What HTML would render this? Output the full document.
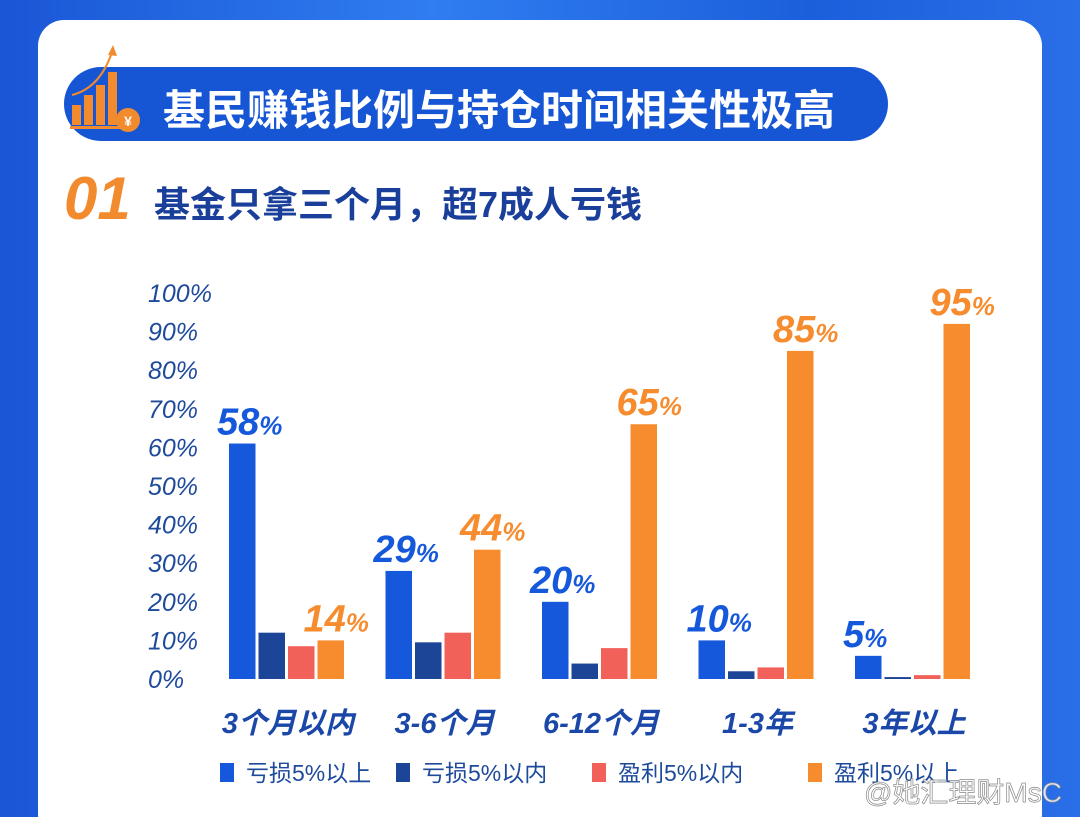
<!DOCTYPE html>
<html><head><meta charset="utf-8"><style>
html,body{margin:0;width:1080px;height:817px;overflow:hidden;}
body{position:relative;background:#1f5fd8;font-family:"Liberation Sans","Noto Sans CJK SC",sans-serif;}
#bg{position:absolute;left:0;top:0;width:1080px;height:817px;background:linear-gradient(90deg,#1a56d6 0%,#2f7df0 40%,#1c5fdc 75%,#2a6ee8 100%);}
#card{position:absolute;left:38px;top:20px;width:1004px;height:820px;background:#fff;border-radius:26px;}
#banner{position:absolute;left:64px;top:67px;width:824px;height:74px;background:#1656d4;border-radius:37px;}
#btitle{position:absolute;left:163px;top:77px;font-size:42px;font-weight:bold;color:#fff;letter-spacing:0px;white-space:nowrap;}
#num{position:absolute;left:64px;top:164px;font-size:60px;font-weight:bold;font-style:italic;color:#f28a2e;}
#sub{position:absolute;left:154px;top:176px;font-size:36px;font-weight:bold;color:#1a3f9a;white-space:nowrap;}
svg{position:absolute;left:0;top:0;}
</style></head><body>
<div id="bg"></div>
<div id="card"></div>
<div id="banner"></div>
<div id="btitle">基民赚钱比例与持仓时间相关性极高</div>
<div id="num">01</div>
<div id="sub">基金只拿三个月，超7成人亏钱</div>
<svg width="1080" height="817" id="chart">
 <g>
  <rect x="72" y="105" width="9" height="20" fill="#f28a2e"/>
  <rect x="84" y="95" width="9" height="30" fill="#f28a2e"/>
  <rect x="96" y="85" width="9" height="40" fill="#f28a2e"/>
  <rect x="108" y="72" width="9" height="53" fill="#f28a2e"/>
  <rect x="70" y="126" width="56" height="3" fill="#f28a2e"/>
  <path d="M72 95 Q100 88 112 52" stroke="#f28a2e" stroke-width="2" fill="none"/>
  <polygon points="108,55 113,45 117,56" fill="#f28a2e"/>
  <circle cx="128" cy="120" r="12" fill="#f28a2e"/>
  <text x="128" y="126" font-size="14" fill="#fff" text-anchor="middle" font-weight="bold">¥</text>
 </g>
</svg>
<script>
const categories=["3个月以内","3-6个月","6-12个月","1-3年","3年以上"];
const lossBig=[61,28,20,10,6];
const lossSmall=[12,9.5,4,2,0.5];
const gainSmall=[8.5,12,8,3,1];
const gainBig=[10,33.5,66,85,92];
const blueLabels=["58","29","20","10","5"];
const orangeLabels=["14","44","65","85","95"];
const yTicks=[0,10,20,30,40,50,60,70,80,90,100];
const seriesNames=["亏损5%以上","亏损5%以内","盈利5%以内","盈利5%以上"];
const colors=["#1558db","#1d4597","#f2605a","#f68c2e"];
const svg=document.getElementById('chart');
const NS="http://www.w3.org/2000/svg";
const y0=679,ppu=3.86;
function yS(v){return y0-v*ppu;}
function gx(i){return 229+i*156.5;}
function mk(t,a){const e=document.createElementNS(NS,t);for(const k in a)e.setAttribute(k,a[k]);svg.appendChild(e);return e;}
yTicks.forEach(v=>{
 const t=mk('text',{x:148,y:yS(v)+9,'font-size':25,'font-style':'italic',fill:'#1d4a9a'});
 
 
 t.textContent=v+'%';
});
const series=[lossBig,lossSmall,gainSmall,gainBig];
categories.forEach((c,i)=>{
 series.forEach((s,j)=>{
  const r=mk('rect',{x:gx(i)+j*29.5,y:yS(s[i]),width:26.5,height:s[i]*ppu,fill:colors[j]});
  
  
 });
 const bl=mk('text',{x:gx(i)-12,y:yS(lossBig[i])-9,'font-size':38,'font-weight':'bold','font-style':'italic',fill:'#1558db'});
 
 
 bl.innerHTML=blueLabels[i]+'<tspan font-size="26">%</tspan>';
 const ol=mk('text',{x:gx(i)+3*29.5-14,y:yS(gainBig[i])-9,'font-size':38,'font-weight':'bold','font-style':'italic',fill:'#f68c2e'});
 
 
 ol.innerHTML=orangeLabels[i]+'<tspan font-size="26">%</tspan>';
 const cl=mk('text',{x:gx(i)+59,y:733,'font-size':29,'font-weight':'bold','font-style':'italic',fill:'#1a47a8','text-anchor':'middle'});
 
 
 cl.textContent=c;
});
const lx=[220,396,592,808];
seriesNames.forEach((n,j)=>{
 const r=mk('rect',{x:lx[j],y:763,width:14,height:19,fill:colors[j]});
 
 
 const t=mk('text',{x:lx[j]+26,y:781,'font-size':23,fill:'#1d4a9a'});
 
 
 t.textContent=n;
});
const w=mk('text',{x:864,y:802,'font-size':28,fill:'#ffffff','fill-opacity':0.85,stroke:'#888','stroke-width':0.7});


w.textContent='@她汇理财MsC';
</script>
</body></html>
